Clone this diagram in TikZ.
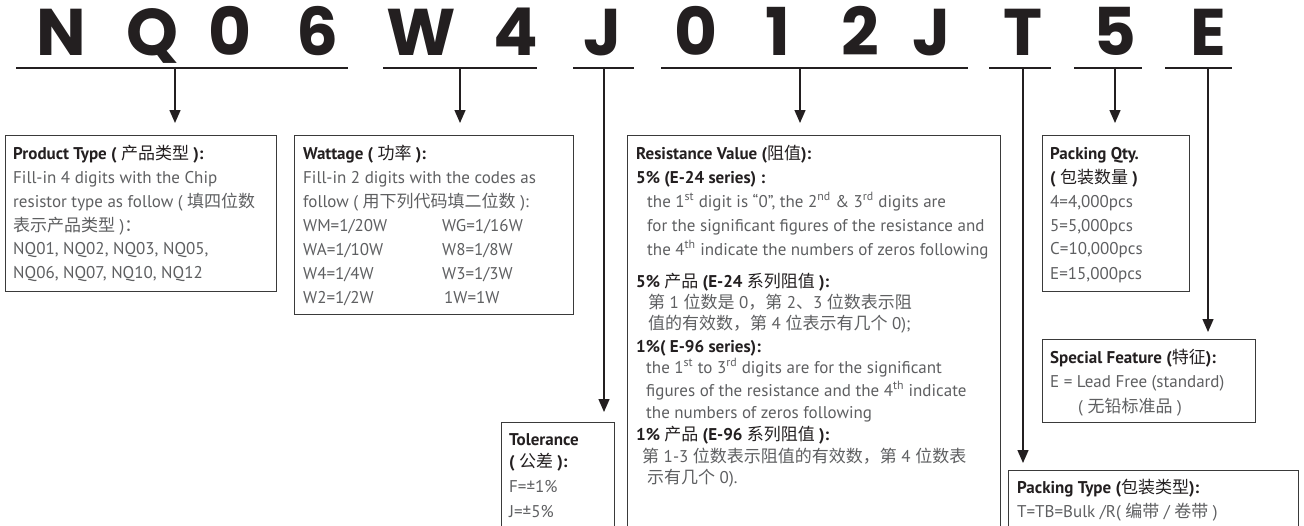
\documentclass[tikz,border=0pt]{standalone}
\usepackage{fontspec}
\setmainfont{PT Sans}
\newfontfamily\cjk{Noto Sans CJK SC}
\newfontfamily\bigf{Poppins}
\usetikzlibrary{arrows.meta}
\definecolor{ink}{HTML}{231F20}
\definecolor{grayt}{HTML}{5E5F61}
\definecolor{boxc}{HTML}{3A3A3A}
\begin{document}
\begin{tikzpicture}[x=1pt,y=-1pt,
 big/.style={font=\bigf\bfseries\fontsize{66}{66}\selectfont, text=ink, anchor=base, inner sep=0},
 uline/.style={draw=ink, line width=2pt},
 link/.style={draw=ink, line width=1.4pt},
 arr/.style={link, -{Triangle[length=13pt,width=11pt]}},
 box/.style={draw=boxc, line width=1.3pt, anchor=north west, inner sep=0},
 ttl/.style={font=\fontsize{17}{20}\selectfont\bfseries, text=ink, anchor=base west, inner sep=0},
 txt/.style={font=\fontsize{17}{20}\selectfont, text=grayt, anchor=base west, inner sep=0},
]
\useasboundingbox (0,0) rectangle (1304,525);
\clip (0,0) rectangle (1304,525);

% big code letters
\node[big] (L1) at (61,55) {N};
\node[big] (L2) at (153,55) {Q};
\node[big] (L3) at (230,55) {0};
\node[big] (L4) at (318,55) {6};
\node[big] (L5) at (421,55) {W};
\node[big] (L6) at (516,55) {4};
\node[big] (L7) at (603,55) {J};
\node[big] (L8) at (696,55) {0};
\node[big] (L9) at (778,55) {1};
\node[big] (L10) at (860,55) {2};
\node[big] (L11) at (932,55) {J};
\node[big] (L12) at (1023,55) {T};
\node[big] (L13) at (1115,55) {5};
\node[big] (L14) at (1208,55) {E};

% underlines
\coordinate (u1a) at (16,68);   \coordinate (u1b) at (348,68);
\coordinate (u2a) at (383,68);  \coordinate (u2b) at (537,68);
\coordinate (u3a) at (573,68);  \coordinate (u3b) at (634,68);
\coordinate (u4a) at (661,68);  \coordinate (u4b) at (968,68);
\coordinate (u5a) at (989,68);  \coordinate (u5b) at (1051,68);
\coordinate (u6a) at (1074,68); \coordinate (u6b) at (1142,68);
\coordinate (u7a) at (1165,68); \coordinate (u7b) at (1232,68);
\foreach \i in {1,...,7} {\draw[uline] (u\i a) -- (u\i b);}
\coordinate (u1) at (175,68);
\coordinate (u2) at (460,68);
\coordinate (u3) at (604,68);
\coordinate (u4) at (800,68);
\coordinate (u5) at (1023,68);
\coordinate (u6) at (1115,68);
\coordinate (u7) at (1208,68);

% boxes
\node[box, minimum width=271pt, minimum height=156pt] (pbox) at (5,135) {};
\node[box, minimum width=279pt, minimum height=179pt] (wbox) at (294,135) {};
\node[box, minimum width=373pt, minimum height=500pt] (rbox) at (627,135) {};
\node[box, minimum width=147pt, minimum height=156pt] (qbox) at (1042,135) {};
\node[box, minimum width=213pt, minimum height=83pt] (sbox) at (1042,339) {};
\node[box, minimum width=113pt, minimum height=200pt] (tbox) at (501,422) {};
\node[box, minimum width=290pt, minimum height=200pt] (kbox) at (1008,470) {};

% connectors
\draw[arr, shorten >=12pt] (u1) -- (u1 |- pbox.north);
\draw[arr, shorten >=12pt] (u2) -- (u2 |- wbox.north);
\draw[arr, shorten >=10pt] (u3) -- (u3 |- tbox.north);
\draw[arr, shorten >=12pt] (u4) -- (u4 |- rbox.north);
\draw[arr, shorten >=7pt] (u5) -- (u5 |- kbox.north);
\draw[arr, shorten >=12pt] (u6) -- (u6 |- qbox.north);
\draw[arr, shorten >=7pt] (u7) -- (u7 |- sbox.north);

% Product type
\node[ttl] (p0) at (13,159) {Product Type ( {\cjk\mdseries 产品类型} ):};
\node[txt] (p1) at (13,183) {Fill-in 4 digits with the Chip};
\node[txt] (p2) at (13,207) {resistor type as follow ( {\cjk 填四位数}};
\node[txt] (p3) at (13,231) {{\cjk 表示产品类型} ){\cjk ：}};
\node[txt] (p4) at (13,254) {NQ01, NQ02, NQ03, NQ05,};
\node[txt] (p5) at (13,278) {NQ06, NQ07, NQ10, NQ12};

% Wattage
\node[ttl] (w0) at (303,159) {Wattage ( {\cjk\mdseries 功率} ):};
\node[txt] (w1) at (303,183) {Fill-in 2 digits with the codes as};
\node[txt] (w2) at (303,207) {follow ( {\cjk 用下列代码填二位数} ):};
\node[txt] (w3) at (303,231) {WM=1/20W};
\node[txt] (w4) at (303,255) {WA=1/10W};
\node[txt] (w5) at (303,279) {W4=1/4W};
\node[txt] (w6) at (303,303) {W2=1/2W};
\node[txt] (w7) at (442,231) {WG=1/16W};
\node[txt] (w8) at (442,255) {W8=1/8W};
\node[txt] (w9) at (442,279) {W3=1/3W};
\node[txt] (w10) at (444,303) {1W=1W};

% Resistance value
\node[ttl] (r0) at (636,159) {Resistance Value ({\cjk\mdseries 阻值}):};
\node[ttl] (r1) at (636,183) {5\% (E-24 series) :};
\node[txt] (r2) at (647,207) {the 1\textsuperscript{st} digit is “0”, the 2\textsuperscript{nd} \& 3\textsuperscript{rd} digits are};
\node[txt] (r3) at (647,231) {for the significant figures of the resistance and};
\node[txt] (r4) at (647,255) {the 4\textsuperscript{th} indicate the numbers of zeros following};
\node[ttl] (r5) at (636,287) {5\% {\cjk\mdseries 产品} (E-24 {\cjk\mdseries 系列阻值} ):};
\node[txt] (r6) at (648,308) {{\cjk 第} 1 {\cjk 位数是} 0{\cjk ，第} 2{\cjk 、}3 {\cjk 位数表示阻}};
\node[txt] (r7) at (648,329) {{\cjk 值的有效数，第} 4 {\cjk 位表示有几个} 0);};
\node[ttl] (r8) at (636,352) {1\%( E-96 series):};
\node[txt] (r9) at (646,373) {the 1\textsuperscript{st} to 3\textsuperscript{rd} digits are for the significant};
\node[txt] (r10) at (646,396) {figures of the resistance and the 4\textsuperscript{th} indicate};
\node[txt] (r11) at (646,418) {the numbers of zeros following};
\node[ttl] (r12) at (636,440) {1\% {\cjk\mdseries 产品} (E-96 {\cjk\mdseries 系列阻值} ):};
\node[txt] (r13) at (642,462) {{\cjk 第} 1-3 {\cjk 位数表示阻值的有效数，第} 4 {\cjk 位数表}};
\node[txt] (r14) at (647,483) {{\cjk 示有几个} 0).};

% Tolerance
\node[ttl] (t0) at (509,445) {Tolerance};
\node[ttl] (t1) at (509,467) {( {\cjk\mdseries 公差} ):};
\node[txt] (t2) at (509,492) {F=±1\%};
\node[txt] (t3) at (509,517) {J=±5\%};

% Packing qty
\node[ttl] (q0) at (1050,159) {Packing Qty.};
\node[ttl] (q1) at (1050,183) {( {\cjk\mdseries 包装数量} )};
\node[txt] (q2) at (1050,207) {4=4,000pcs};
\node[txt] (q3) at (1050,231) {5=5,000pcs};
\node[txt] (q4) at (1050,254) {C=10,000pcs};
\node[txt] (q5) at (1050,279) {E=15,000pcs};

% Special feature
\node[ttl] (s0) at (1050,363) {Special Feature ({\cjk\mdseries 特征}):};
\node[txt] (s1) at (1050,387) {E = Lead Free (standard)};
\node[txt] (s2) at (1078,412) {( {\cjk 无铅标准品} )};

% Packing type
\node[ttl] (k0) at (1017,493) {Packing Type ({\cjk\mdseries 包装类型}):};
\node[txt] (k1) at (1017,517) {T=TB=Bulk /R( {\cjk 编带} / {\cjk 卷带} )};
\end{tikzpicture}
\end{document}
